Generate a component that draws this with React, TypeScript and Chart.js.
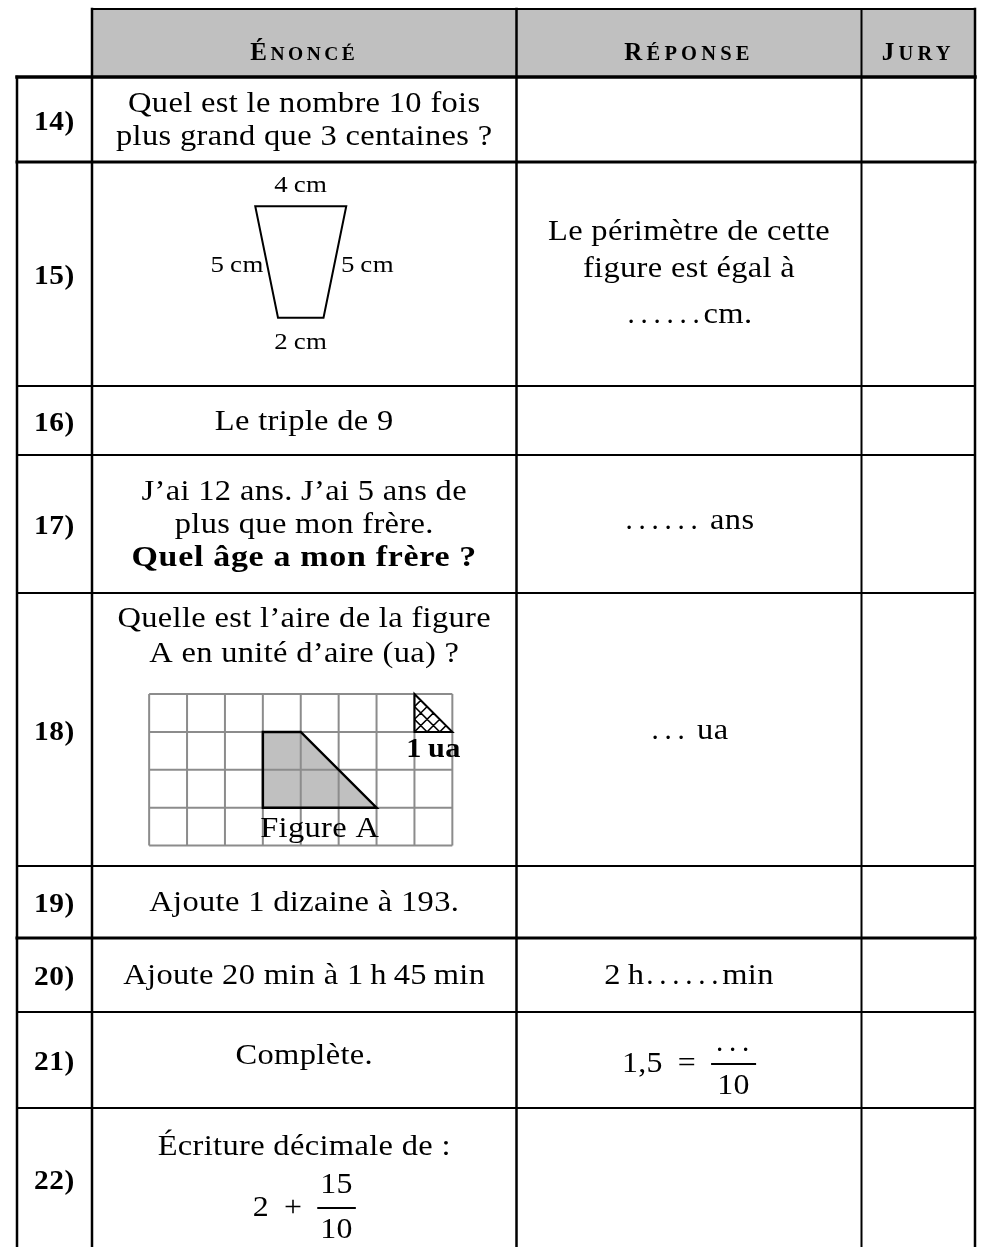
import React, { useEffect, useRef } from "react";
import { Chart, registerables } from "chart.js";

Chart.register(...registerables);

// ---------------- data ----------------
const PAGE_W = 982;
const PAGE_H = 1247;

const columnEdges = [17, 92, 516.5, 861.5, 975];
const headerEdges = [9, 77];
const rowEdges = [77, 162, 386, 455, 593, 866, 938, 1012, 1108, 1250];
const ruleWeights = [3.5, 3, 2, 2, 2, 2, 3, 2, 2, 2];
const columnWeights = [2.5, 2.5, 2.5, 2, 2.5];

const headerLabels = ["Énoncé", "Réponse", "Jury"];
const questionNumbers = ["14)", "15)", "16)", "17)", "18)", "19)", "20)", "21)", "22)"];

const questionTexts: string[][] = [
  ["Quel est le nombre 10 fois", "plus grand que 3 centaines ?"],
  [],
  ["Le triple de 9"],
  ["J’ai 12 ans. J’ai 5 ans de", "plus que mon frère.", "Quel âge a mon frère ?"],
  ["Quelle est l’aire de la figure", "A en unité d’aire (ua) ?"],
  ["Ajoute 1 dizaine à 193."],
  ["Ajoute 20 min à 1\u2009h\u200945\u2009min"],
  ["Complète."],
  ["Écriture décimale de :"],
];
const boldLineIndex = [-1, -1, -1, 2, -1, -1, -1, -1, -1];

const answerTexts: string[][] = [
  [],
  ["Le périmètre de cette", "figure est égal à", "……cm."],
  [],
  ["…… ans"],
  ["… ua"],
  [],
  ["2\u2009h……min"],
  [],
  [],
];

// trapezoid (row 15): sides in cm, labels
const trapezoidSides = [4, 5, 5, 2]; // top, right, left, bottom
const trapezoidLabels = ["4\u2009cm", "5\u2009cm", "5\u2009cm", "2\u2009cm"];

// squared grid (row 18)
const gridColumns = 8;
const gridRows = 4;
const figureAVertices = [[3, 1], [4, 1], [6, 3], [3, 3]];
const unitTriangle = [[7, 0], [7, 1], [8, 1]];
const gridLabels = ["Figure A", "1\u2009ua"];

// fractions
const answer21Left = ["1,5", "="];
const answer21Fraction = ["…", "10"];
const question22Left = ["2", "+"];
const question22Fraction = ["15", "10"];

// ---------------- styles ----------------
const SERIF = '"Liberation Serif", "Times New Roman", serif';
const BODY = 29;
const BODY_SX = 1.12;
const SPACING = 0.3;
const LINE_H = 33;
const DOT_PITCH = 13;
const HEADER_FILL = "#c0c0c0";
const FIG_FILL = "#c0c0c0";
const GRID_COLOR = "#8c8c8c";
const FIG_DX = -3.5;
const CM = 22.75;
const CELL = 37.9;

const colCenter = (c: number) => (columnEdges[c] + columnEdges[c + 1]) / 2;
const rowCenter = (r: number) => (rowEdges[r] + rowEdges[r + 1]) / 2;

function gridGeom() {
  const w = gridColumns * CELL;
  return { left: colCenter(1) - w / 2 + FIG_DX, top: rowEdges[4] + 101, cell: CELL };
}

function trapGeom() {
  const [top, right, , bottom] = trapezoidSides;
  const half = (top - bottom) / 2;
  const h = Math.sqrt(right * right - half * half) * CM;
  const cx = colCenter(1) + FIG_DX;
  const cy = rowCenter(1) - 12;
  return {
    tl: [cx - (top * CM) / 2, cy - h / 2],
    tr: [cx + (top * CM) / 2, cy - h / 2],
    br: [cx + (bottom * CM) / 2, cy + h / 2],
    bl: [cx - (bottom * CM) / 2, cy + h / 2],
  };
}

let curSX = 1;
function setFont(ctx: CanvasRenderingContext2D, size: number, bold = false, spacing = SPACING, sx = BODY_SX) {
  ctx.font = `${bold ? "bold " : ""}${size}px ${SERIF}`;
  (ctx as any).letterSpacing = `${spacing}px`;
  curSX = sx;
}

const splitDots = (s: string) => s.split(/(…)/).filter((p) => p.length > 0);

function measure(ctx: CanvasRenderingContext2D, s: string) {
  let w = 0;
  for (const p of splitDots(s)) w += p === "…" ? DOT_PITCH * 3 : ctx.measureText(p).width * curSX;
  return w;
}

function drawText(ctx: CanvasRenderingContext2D, s: string, x: number, y: number, align = "center") {
  const w = measure(ctx, s);
  let cx = align === "center" ? x - w / 2 : align === "right" ? x - w : x;
  ctx.textAlign = "left";
  ctx.textBaseline = "alphabetic";
  for (const p of splitDots(s)) {
    if (p === "…") {
      for (let k = 0; k < 3; k++) ctx.fillText(".", cx + k * DOT_PITCH + 2, y);
      cx += DOT_PITCH * 3;
    } else {
      ctx.save();
      ctx.translate(cx, y);
      ctx.scale(curSX, 1);
      ctx.fillText(p, 0, 0);
      ctx.restore();
      cx += ctx.measureText(p).width * curSX;
    }
  }
}

function buildDatasets() {
  const ds: any[] = [];
  const seg = (pts: number[][], color: string, width: number, order: number, cap = "square") =>
    ds.push({
      data: pts.map(([x, y]) => ({ x, y })),
      showLine: true,
      borderColor: color,
      borderWidth: width,
      pointRadius: 0,
      borderCapStyle: cap,
      borderJoinStyle: "miter",
      fill: false,
      tension: 0,
      order,
    });
  const last = columnEdges.length - 1;
  seg([[columnEdges[1], headerEdges[0]], [columnEdges[last], headerEdges[0]]], "#000", 2, 1);
  rowEdges.forEach((ry, i) => seg([[columnEdges[0], ry], [columnEdges[last], ry]], "#000", ruleWeights[i], 1));
  columnEdges.forEach((cx, i) =>
    seg([[cx, i === 0 ? rowEdges[0] : headerEdges[0]], [cx, rowEdges[rowEdges.length - 1]]], "#000", columnWeights[i], 1)
  );
  const g = gridGeom();
  for (let i = 0; i <= gridColumns; i++)
    seg([[g.left + i * g.cell, g.top], [g.left + i * g.cell, g.top + gridRows * g.cell]], GRID_COLOR, 2, 3, "butt");
  for (let j = 0; j <= gridRows; j++)
    seg([[g.left, g.top + j * g.cell], [g.left + gridColumns * g.cell, g.top + j * g.cell]], GRID_COLOR, 2, 3, "butt");
  const fa = figureAVertices.map(([i, j]) => [g.left + i * g.cell, g.top + j * g.cell]);
  seg([...fa, fa[0], fa[1]], "#000", 2.5, 0, "butt");
  const ut = unitTriangle.map(([i, j]) => [g.left + i * g.cell, g.top + j * g.cell]);
  seg([...ut, ut[0], ut[1]], "#000", 2, 0, "butt");
  const t = trapGeom();
  seg([t.tl, t.tr, t.br, t.bl, t.tl, t.tr], "#000", 2, 0, "butt");
  return ds;
}

const tablePlugin = {
  id: "tableContent",
  beforeDatasetsDraw(chart: any) {
    const { ctx, scales } = chart;
    const X = (v: number) => scales.x.getPixelForValue(v);
    const Y = (v: number) => scales.y.getPixelForValue(v);
    ctx.save();
    ctx.fillStyle = HEADER_FILL;
    ctx.fillRect(X(columnEdges[1]), Y(headerEdges[0]), X(columnEdges[4]) - X(columnEdges[1]), Y(headerEdges[1]) - Y(headerEdges[0]));
    const g = gridGeom();
    ctx.fillStyle = FIG_FILL;
    ctx.beginPath();
    figureAVertices.forEach(([i, j], k) => {
      const px = X(g.left + i * g.cell), py = Y(g.top + j * g.cell);
      if (k) ctx.lineTo(px, py); else ctx.moveTo(px, py);
    });
    ctx.closePath();
    ctx.fill();
    ctx.restore();
  },
  afterDatasetsDraw(chart: any) {
    const { ctx, scales } = chart;
    const X = (v: number) => scales.x.getPixelForValue(v);
    const Y = (v: number) => scales.y.getPixelForValue(v);
    ctx.save();
    ctx.fillStyle = "#000";

    // header small caps
    const hb = Y((headerEdges[0] + headerEdges[1]) / 2 + 17);
    headerLabels.forEach((label, i) => {
      const first = label[0];
      const rest = label.slice(1).toUpperCase();
      const small = i === 0 ? 19.5 : 20.5;
      const sp = i === 0 ? 3.5 : 4.2;
      setFont(ctx, 25, true, sp, 1);
      const w1 = ctx.measureText(first).width;
      setFont(ctx, small, true, sp, 1);
      const w2 = ctx.measureText(rest).width;
      const x0 = X(colCenter(i + 1)) - (w1 + w2) / 2;
      ctx.textAlign = "left";
      setFont(ctx, 25, true, sp, 1);
      ctx.fillText(first, x0, hb);
      setFont(ctx, small, true, sp, 1);
      ctx.fillText(rest, x0 + w1, hb);
    });

    // row numbers
    questionNumbers.forEach((n, r) => {
      setFont(ctx, 28, true, 0.5, 1.05);
      drawText(ctx, n, X(colCenter(0)), Y(rowCenter(r) + 10));
    });

    // question texts
    questionTexts.forEach((lines, r) => {
      const n = lines.length;
      if (!n) return;
      lines.forEach((line, i) => {
        const bold = boldLineIndex[r] === i;
        setFont(ctx, BODY, bold, bold ? 0.6 : SPACING, bold ? 1.17 : BODY_SX);
        let base: number;
        if (r === 4) base = rowEdges[r] + 34 + i * 35;
        else if (r === 7) base = rowCenter(r) + 4;
        else if (r === 8) base = rowEdges[r] + 47;
        else base = rowCenter(r) + (i - (n - 1) / 2) * LINE_H + 9;
        drawText(ctx, line, X(colCenter(1)), Y(base));
      });
    });

    // answer texts
    answerTexts.forEach((lines, r) => {
      const n = lines.length;
      if (!n) return;
      setFont(ctx, BODY, false);
      lines.forEach((line, i) => {
        let base: number;
        if (r === 1) {
          const offs = [0, 37, 83];
          base = rowCenter(r) - 40 + 6 + offs[i];
        } else if (r === 3) base = rowCenter(r) + 5;
        else base = rowCenter(r) + (i - (n - 1) / 2) * LINE_H + 9;
        drawText(ctx, line, X(colCenter(2)), Y(base));
      });
    });

    // inline fraction helper
    const drawMath = (left: string[], frac: string[], cx: number, bar: number) => {
      setFont(ctx, BODY, false, 0.3, 1.1);
      const gap = 15;
      const wl = left.map((s) => measure(ctx, s));
      const wf = Math.max(measure(ctx, frac[0]), measure(ctx, frac[1])) + 6;
      const total = wl.reduce((a, b) => a + b, 0) + gap * left.length + wf;
      let x0 = cx - total / 2;
      left.forEach((s, k) => {
        drawText(ctx, s, X(x0), Y(bar + 7.5), "left");
        x0 += wl[k] + gap;
      });
      const fc = x0 + wf / 2;
      drawText(ctx, frac[0], X(fc), Y(bar - (frac[0] === "…" ? 13 : 15)));
      drawText(ctx, frac[1], X(fc), Y(bar + 30));
      ctx.fillRect(X(x0), Y(bar) - 1, X(x0 + wf) - X(x0), 2);
    };
    drawMath(answer21Left, answer21Fraction, colCenter(2), rowCenter(7) + 4);
    drawMath(question22Left, question22Fraction, colCenter(1), rowEdges[8] + 100);

    // trapezoid labels
    const t = trapGeom();
    setFont(ctx, 24, false, 0.3, 1.12);
    drawText(ctx, trapezoidLabels[0], X((t.tl[0] + t.tr[0]) / 2), Y(t.tl[1] - 14));
    drawText(ctx, trapezoidLabels[1], X((t.tr[0] + t.br[0]) / 2 + 6), Y((t.tr[1] + t.br[1]) / 2 + 10), "left");
    drawText(ctx, trapezoidLabels[2], X((t.tl[0] + t.bl[0]) / 2 - 3), Y((t.tl[1] + t.bl[1]) / 2 + 10), "right");
    drawText(ctx, trapezoidLabels[3], X((t.bl[0] + t.br[0]) / 2), Y(t.bl[1] + 31));

    // grid labels
    const g = gridGeom();
    setFont(ctx, BODY, false);
    drawText(ctx, gridLabels[0], X(g.left + 4.5 * g.cell), Y(g.top + 143));
    setFont(ctx, 27, true, 0.3, 1.12);
    drawText(ctx, gridLabels[1], X(g.left + 7.5 * g.cell), Y(g.top + 63));

    // hatch in unit triangle
    const ut = unitTriangle.map(([i, j]) => [X(g.left + i * g.cell), Y(g.top + j * g.cell)]);
    ctx.beginPath();
    ctx.moveTo(ut[0][0], ut[0][1]);
    ctx.lineTo(ut[1][0], ut[1][1]);
    ctx.lineTo(ut[2][0], ut[2][1]);
    ctx.closePath();
    ctx.clip();
    ctx.strokeStyle = "#000";
    ctx.lineWidth = 1.5;
    const a = ut[0][0], tp = ut[0][1];
    const s = (X(g.left + g.cell) - X(g.left)) / 3;
    ctx.beginPath();
    for (let k = -6; k <= 6; k++) {
      ctx.moveTo(a + k * s - 60, tp - 60);
      ctx.lineTo(a + k * s + 120, tp + 120);
      ctx.moveTo(a + k * s + 60, tp - 60);
      ctx.lineTo(a + k * s - 120, tp + 120);
    }
    ctx.stroke();
    ctx.restore();
  },
};

export default function App() {
  const ref = useRef<HTMLCanvasElement | null>(null);
  useEffect(() => {
    if (!ref.current) return;
    const chart = new Chart(ref.current, {
      type: "scatter",
      data: { datasets: buildDatasets() },
      options: {
        animation: false,
        responsive: false,
        maintainAspectRatio: false,
        devicePixelRatio: 1,
        events: [],
        layout: { padding: 0 },
        plugins: { legend: { display: false }, tooltip: { enabled: false }, title: { display: false } },
        scales: {
          x: { type: "linear", min: 0, max: PAGE_W, display: false },
          y: { type: "linear", min: 0, max: PAGE_H, reverse: true, display: false },
        },
      } as any,
      plugins: [tablePlugin as any],
    });
    return () => chart.destroy();
  }, []);
  return (
    <div style={{ position: "absolute", left: 0, top: 0, width: PAGE_W, height: PAGE_H, background: "#fff" }}>
      <canvas ref={ref} width={PAGE_W} height={PAGE_H} style={{ display: "block" }} />
    </div>
  );
}
